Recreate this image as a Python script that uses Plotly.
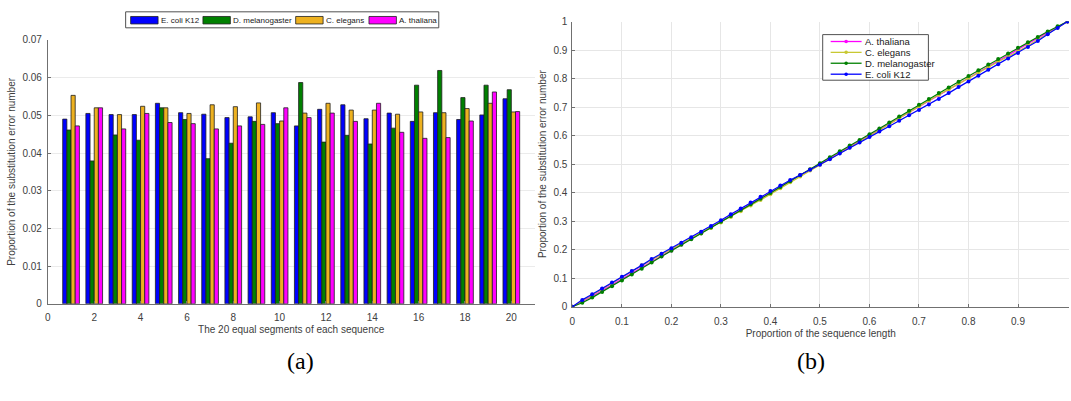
import plotly.graph_objects as go

# ---------------- data: panel (a) ----------------
segments = list(range(1, 21))
ecoli_bar = [0.0490, 0.0505, 0.0502, 0.0502, 0.0532, 0.0507, 0.0503, 0.0494, 0.0496, 0.0507,
             0.0472, 0.0516, 0.0528, 0.0491, 0.0506, 0.0484, 0.0507, 0.0489, 0.0501, 0.0544]
dmel_bar = [0.0461, 0.0379, 0.0448, 0.0434, 0.0520, 0.0489, 0.0385, 0.0426, 0.0484, 0.0478,
            0.0587, 0.0429, 0.0447, 0.0424, 0.0466, 0.0580, 0.0619, 0.0547, 0.0580, 0.0568]
celeg_bar = [0.0553, 0.0520, 0.0502, 0.0524, 0.0520, 0.0505, 0.0528, 0.0523, 0.0533, 0.0485,
             0.0506, 0.0532, 0.0514, 0.0514, 0.0503, 0.0509, 0.0507, 0.0518, 0.0532, 0.0509]
athal_bar = [0.0472, 0.0520, 0.0464, 0.0505, 0.0481, 0.0478, 0.0464, 0.0472, 0.0476, 0.0520,
             0.0494, 0.0506, 0.0484, 0.0532, 0.0455, 0.0439, 0.0441, 0.0485, 0.0562, 0.0510]

# ---------------- data: panel (b) ----------------
prop_len = [0.00, 0.02, 0.04, 0.06, 0.08, 0.10, 0.12, 0.14, 0.16, 0.18,
            0.20, 0.22, 0.24, 0.26, 0.28, 0.30, 0.32, 0.34, 0.36, 0.38,
            0.40, 0.42, 0.44, 0.46, 0.48, 0.50, 0.52, 0.54, 0.56, 0.58,
            0.60, 0.62, 0.64, 0.66, 0.68, 0.70, 0.72, 0.74, 0.76, 0.78,
            0.80, 0.82, 0.84, 0.86, 0.88, 0.90, 0.92, 0.94, 0.96, 0.98, 1.00]
ecoli_cum = [0.000, 0.024, 0.044, 0.064, 0.085, 0.105, 0.125, 0.145, 0.167, 0.186,
             0.205, 0.224, 0.244, 0.263, 0.283, 0.303, 0.324, 0.344, 0.365, 0.386,
             0.406, 0.425, 0.444, 0.462, 0.480, 0.498, 0.517, 0.537, 0.557, 0.576,
             0.595, 0.614, 0.633, 0.652, 0.671, 0.690, 0.709, 0.728, 0.749, 0.770,
             0.790, 0.810, 0.831, 0.850, 0.870, 0.890, 0.911, 0.932, 0.955, 0.977, 1.000]
dmel_cum = [0.000, 0.014, 0.032, 0.052, 0.072, 0.092, 0.113, 0.133, 0.155, 0.176,
            0.196, 0.217, 0.237, 0.257, 0.278, 0.298, 0.318, 0.339, 0.359, 0.379,
            0.399, 0.420, 0.440, 0.461, 0.482, 0.503, 0.524, 0.545, 0.565, 0.585,
            0.605, 0.625, 0.646, 0.667, 0.687, 0.708, 0.728, 0.749, 0.769, 0.789,
            0.809, 0.829, 0.849, 0.869, 0.888, 0.908, 0.927, 0.946, 0.965, 0.983, 1.000]
celeg_cum = [0.000, 0.020, 0.042, 0.062, 0.082, 0.103, 0.124, 0.145, 0.164, 0.183,
             0.202, 0.221, 0.240, 0.258, 0.276, 0.295, 0.315, 0.335, 0.355, 0.374,
             0.394, 0.415, 0.436, 0.457, 0.478, 0.498, 0.518, 0.538, 0.558, 0.578,
             0.598, 0.619, 0.640, 0.661, 0.682, 0.703, 0.723, 0.743, 0.762, 0.782,
             0.801, 0.821, 0.840, 0.859, 0.876, 0.895, 0.915, 0.935, 0.957, 0.979, 1.000]
athal_cum = [0.000, 0.018, 0.037, 0.057, 0.077, 0.097, 0.117, 0.137, 0.157, 0.177,
             0.197, 0.218, 0.238, 0.258, 0.279, 0.299, 0.319, 0.339, 0.360, 0.380,
             0.400, 0.420, 0.441, 0.461, 0.481, 0.501, 0.521, 0.541, 0.561, 0.582,
             0.602, 0.622, 0.642, 0.662, 0.682, 0.703, 0.723, 0.743, 0.763, 0.783,
             0.804, 0.824, 0.844, 0.864, 0.884, 0.903, 0.923, 0.942, 0.962, 0.981, 1.000]

bar_names = ["E. coli K12", "D. melanogaster", "C. elegans", "A. thaliana"]
line_names = ["A. thaliana", "C. elegans", "D. melanogaster", "E. coli K12"]

x_ticks_a = [0, 2, 4, 6, 8, 10, 12, 14, 16, 18, 20]
y_ticks_a = [0, 0.01, 0.02, 0.03, 0.04, 0.05, 0.06, 0.07]
x_ticks_b = [0, 0.1, 0.2, 0.3, 0.4, 0.5, 0.6, 0.7, 0.8, 0.9]
y_ticks_b = [0, 0.1, 0.2, 0.3, 0.4, 0.5, 0.6, 0.7, 0.8, 0.9, 1]

BLUE = "#0000FF"
GREEN = "#008000"
ORANGE = "#EDB120"
MAGENTA = "#FF00FF"
YELLOW = "#C8C832"

bar_colors = [BLUE, GREEN, ORANGE, MAGENTA]
line_colors = [MAGENTA, YELLOW, GREEN, BLUE]

W, H = 1071, 401
FONT = "Liberation Sans"
TXT = "#404040"


def px_x(p):
    return p / W


def px_y(p):
    return 1 - p / H


fig = go.Figure()

bar_line = dict(color="#202020", width=0.8)
for name, vals, col in zip(bar_names, [ecoli_bar, dmel_bar, celeg_bar, athal_bar], bar_colors):
    fig.add_trace(go.Bar(x=segments, y=vals, name=name, marker=dict(color=col, line=bar_line),
                         xaxis="x", yaxis="y", showlegend=False))

for name, vals, col in zip(line_names, [athal_cum, celeg_cum, dmel_cum, ecoli_cum], line_colors):
    fig.add_trace(go.Scatter(x=prop_len, y=vals, name=name, mode="lines+markers",
                             line=dict(color=col, width=1.2), marker=dict(color=col, size=4),
                             xaxis="x2", yaxis="y2", showlegend=False))

# ---------- hand-built compact legends (MATLAB style) ----------
shapes = []
annotations = []

# legend (a): horizontal boxed legend
shapes.append(dict(type="rect", xref="paper", yref="paper",
                   x0=px_x(123), x1=px_x(437), y0=px_y(22.5), y1=px_y(6),
                   line=dict(color="#505050", width=1), fillcolor="white", layer="above"))
patch_x = [128, 200.5, 293.5, 367]
for name, col, x0 in zip(bar_names, bar_colors, patch_x):
    shapes.append(dict(type="rect", xref="paper", yref="paper",
                       x0=px_x(x0), x1=px_x(x0 + 27.5), y0=px_y(18.5), y1=px_y(10.8),
                       line=dict(color="#202020", width=0.8), fillcolor=col, layer="above"))
    annotations.append(dict(text=name, x=px_x(x0 + 29), y=px_y(14.6), xref="paper", yref="paper",
                            xanchor="left", yanchor="middle", showarrow=False, borderpad=0,
                            font=dict(family=FONT, size=8, color="#202020")))

# legend (b): vertical boxed legend
shapes.append(dict(type="rect", xref="paper", yref="paper",
                   x0=px_x(822), x1=px_x(928), y0=px_y(76.5), y1=px_y(29.5),
                   line=dict(color="#505050", width=1), fillcolor="white", layer="above"))
row_y = [36.6, 47.8, 59.0, 70.3]
for name, col, yy in zip(line_names, line_colors, row_y):
    shapes.append(dict(type="line", xref="paper", yref="paper",
                       x0=px_x(830), x1=px_x(861), y0=px_y(yy), y1=px_y(yy),
                       line=dict(color=col, width=1.3), layer="above"))
    shapes.append(dict(type="circle", xref="paper", yref="paper",
                       x0=px_x(843.7), x1=px_x(847.3), y0=px_y(yy + 1.8), y1=px_y(yy - 1.8),
                       line=dict(color=col, width=0), fillcolor=col, layer="above"))
    annotations.append(dict(text=name, x=px_x(863), y=px_y(yy), xref="paper", yref="paper",
                            xanchor="left", yanchor="middle", showarrow=False, borderpad=0,
                            font=dict(family=FONT, size=9.5, color="#202020")))

annotations += [
    dict(text="(a)", x=px_x(283), y=px_y(381), xref="paper", yref="paper",
         showarrow=False, font=dict(family="Liberation Serif", size=24, color="black")),
    dict(text="(b)", x=px_x(826), y=px_y(381), xref="paper", yref="paper",
         showarrow=False, font=dict(family="Liberation Serif", size=24, color="black")),
]

axis_common = dict(showline=True, linecolor="#707070", linewidth=1, mirror=False,
                   ticks="inside", ticklen=3, tickcolor="#707070",
                   tickfont=dict(family=FONT, size=10, color=TXT), zeroline=False)

fig.update_layout(
    width=W, height=H, margin=dict(l=0, r=0, t=0, b=0),
    paper_bgcolor="white", plot_bgcolor="white",
    barmode="group", bargap=0.28, bargroupgap=0,
    showlegend=False,
    xaxis=dict(domain=[px_x(45), px_x(533)], range=[0, 21], tickvals=x_ticks_a,
               showgrid=False, anchor="y", ticklabelstandoff=4,
               title=dict(text="The 20 equal segments of each sequence", standoff=4,
                          font=dict(family=FONT, size=10, color=TXT)), **axis_common),
    yaxis=dict(domain=[px_y(307), px_y(35)], range=[0, 0.07], tickvals=y_ticks_a,
               showgrid=True, gridcolor="#EBEBEB", anchor="x", ticklabelstandoff=3,
               title=dict(text="Proportion of the substitution error number", standoff=4,
                          font=dict(family=FONT, size=10, color=TXT)), **axis_common),
    xaxis2=dict(domain=[px_x(571), px_x(1069)], range=[0, 1.003], tickvals=x_ticks_b,
                showgrid=True, gridcolor="#E6E6E6", anchor="y2", ticklabelstandoff=5,
                title=dict(text="Proportion of the sequence length", standoff=4,
                           font=dict(family=FONT, size=10, color=TXT)), **axis_common),
    yaxis2=dict(domain=[px_y(310), px_y(16)], range=[0, 1], tickvals=y_ticks_b,
                showgrid=True, gridcolor="#E6E6E6", anchor="x2", ticklabelstandoff=2,
                title=dict(text="Proportion of the substitution error number", standoff=4,
                           font=dict(family=FONT, size=10, color=TXT)), **axis_common),
    shapes=shapes,
    annotations=annotations,
)

fig.write_html("out.html")
